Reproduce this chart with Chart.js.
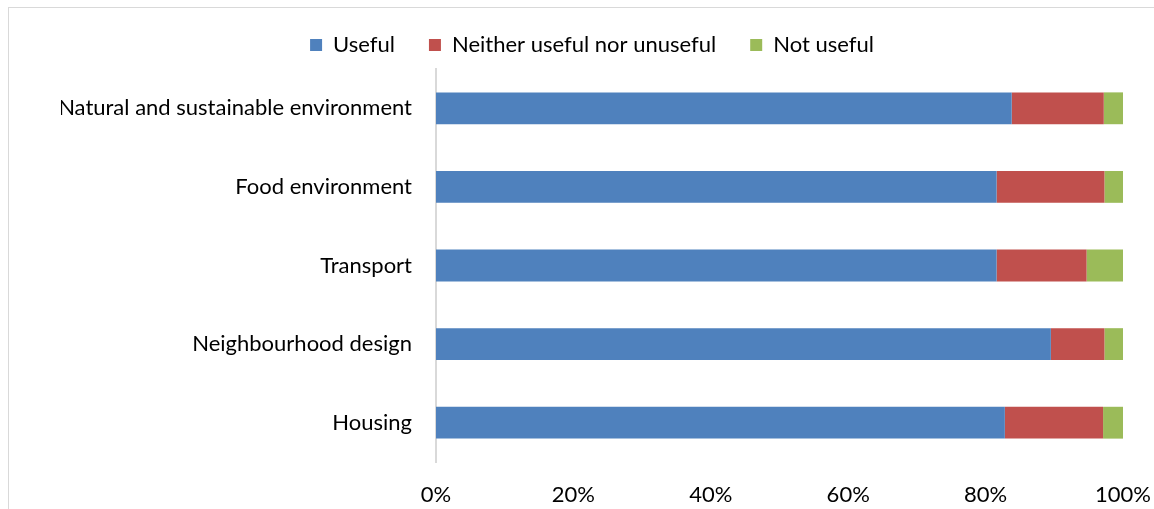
<!DOCTYPE html>
<html>
<head>
<meta charset="utf-8">
<script src="https://cdn.jsdelivr.net/npm/chart.js@4/dist/chart.umd.min.js"></script>
<style>
  html, body { margin: 0; padding: 0; background: #fff; }
  #wrap { position: relative; width: 1154px; height: 509px; overflow: hidden; }
  #frame { position: absolute; left: 8px; top: 7px; width: 1200px; height: 600px; border: 1px solid #d9d9d9; }
  canvas { position: absolute; left: 0; top: 0; }
</style>
</head>
<body>
<div id="wrap">
  <div id="frame"></div>
  <canvas id="chart" width="1154" height="509"></canvas>
</div>
<script>
// categories, top to bottom
const areas = [
  'Natural and sustainable environment',
  'Food environment',
  'Transport',
  'Neighbourhood design',
  'Housing'
]

// percentages
const useful = [83.8, 81.6, 81.6, 89.5, 82.8]
const neither = [13.4, 15.7, 13.1, 7.8, 14.3]
const notUseful = [2.8, 2.7, 5.3, 2.7, 2.9]

const tickLabels = ['0%', '20%', '40%', '60%', '80%', '100%']

const seriesNames = ['Useful', 'Neither useful nor unuseful', 'Not useful']
const seriesColors = ['#4F81BD', '#C0504D', '#9BBB59']

const fontFamily = 'Lato, "Open Sans", sans-serif'
const fontSize = 22

// legend box is fixed in height so the plot starts where it does in the original
const legendHeight = {
  id: 'legendHeight',
  beforeInit(chart) {
    const fit = chart.legend.fit
    chart.legend.fit = function () {
      fit.call(this)
      this.height = 69
    }
  }
}

const ctx = document.querySelector('#chart').getContext('2d')

new Chart(ctx, {
  type: 'bar',
  data: {
    labels: areas,
    datasets: [useful, neither, notUseful].map((values, i) => ({
      label: seriesNames[i],
      data: values,
      backgroundColor: seriesColors[i],
      borderWidth: 0,
      barPercentage: 0.81,
      categoryPercentage: 0.5
    }))
  },
  options: {
    indexAxis: 'y',
    responsive: false,
    animation: false,
    layout: { padding: { top: 0, left: 61, right: 31, bottom: 0 } },
    plugins: {
      tooltip: { enabled: false },
      legend: {
        position: 'top',
        labels: {
          color: '#000',
          font: { family: fontFamily, size: fontSize },
          boxWidth: 12,
          boxHeight: 12,
          padding: 34,
          useBorderRadius: false
        }
      }
    },
    scales: {
      x: {
        stacked: true,
        min: 0,
        max: 100,
        grid: { display: false, drawTicks: false },
        border: { display: false },
        ticks: {
          stepSize: 20,
          padding: 20,
          color: '#000',
          font: { family: fontFamily, size: fontSize },
          callback: (value) => tickLabels[value / 20]
        },
        afterFit: (scale) => {
          scale.height = 47
          scale.paddingLeft = 0
          scale.paddingRight = 0
        }
      },
      y: {
        stacked: true,
        grid: { display: false, drawTicks: false },
        border: { display: true, color: '#d9d9d9', width: 2 },
        ticks: {
          padding: 24,
          color: '#000',
          font: { family: fontFamily, size: fontSize }
        },
        afterFit: (scale) => { scale.width = 375 }
      }
    }
  },
  plugins: [legendHeight]
})
</script>
</body>
</html>
